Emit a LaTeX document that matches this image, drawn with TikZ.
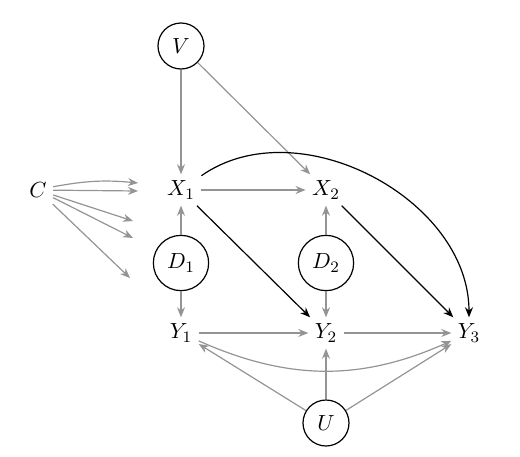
\documentclass[tikz,border=0pt,11pt]{standalone}
\usetikzlibrary{arrows.meta}
\tikzset{every picture/.style={line width=0.6pt}}
\begin{document}
\begin{tikzpicture}[>={Stealth[length=5pt,width=4pt]},
        var/.style={inner sep=3pt},
        latent/.style={draw,circle,inner sep=4pt,minimum size=23pt},
        weak/.style={->,black!42},
        strong/.style={->,black}]
        \useasboundingbox (-90.5pt,-133pt) rectangle (169.5pt,95pt);
        % nodes
        \node[var] (X1) at (0,0) {$X_1$};
        \node[var] (X2) at (72.5pt,0) {$X_2$};
        \node[var] (C) at (-71.5pt,0) {$C$};
        \node[latent] (V) at (0,72pt) {$V$};
        \node[latent] (D1) at (0,-36.5pt) {$D_1$};
        \node[latent] (D2) at (72.5pt,-36.5pt) {$D_2$};
        \node[var] (Y1) at (0,-71.5pt) {$Y_1$};
        \node[var] (Y2) at (72.5pt,-71.5pt) {$Y_2$};
        \node[var] (Y3) at (144pt,-71.5pt) {$Y_3$};
        \node[latent] (U) at (72.5pt,-116.5pt) {$U$};
        % free ends of the arrows from C
        \coordinate (c1) at (-21.5pt,3.5pt);
        \coordinate (c2) at (-21.5pt,-0.5pt);
        \coordinate (c3) at (-24pt,-15.5pt);
        \coordinate (c4) at (-24pt,-24pt);
        \coordinate (c5) at (-25.5pt,-44pt);
        \draw[weak] (C) to[bend left=8] (c1);
        \draw[weak] (C) -- (c2);
        \draw[weak] (C) -- (c3);
        \draw[weak] (C) -- (c4);
        \draw[weak] (C) -- (c5);
        % edges
        \draw[weak] (V) -- (X1);
        \draw[weak] (V) -- (X2);
        \draw[weak] (X1) -- (X2);
        \draw[weak] (D1) -- (X1);
        \draw[weak] (D1) -- (Y1);
        \draw[weak] (D2) -- (X2);
        \draw[weak] (D2) -- (Y2);
        \draw[weak] (Y1) -- (Y2);
        \draw[weak] (Y2) -- (Y3);
        \draw[weak] (Y1) to[bend right=24] (Y3);
        \draw[weak] (U) -- (Y1);
        \draw[weak] (U) -- (Y2);
        \draw[weak] (U) -- (Y3);
        \draw[strong] (X1) -- (Y2);
        \draw[strong] (X2) -- (Y3);
        \draw[strong] (X1) to[out=35,in=90] (Y3);
    \end{tikzpicture}
\end{document}
